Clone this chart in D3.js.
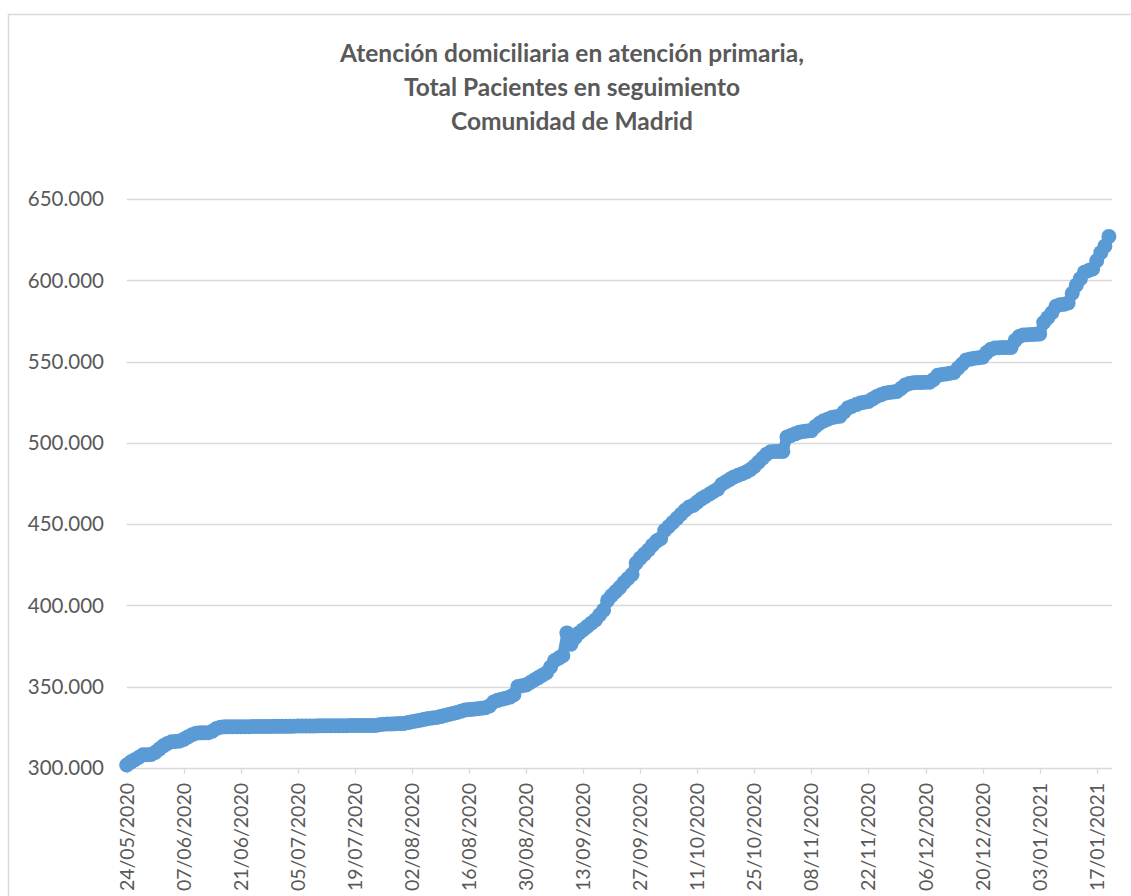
<!DOCTYPE html>
<html><head><meta charset="utf-8">
<script src="https://cdn.jsdelivr.net/npm/d3@7"></script>
<style>body{margin:0;background:#fff}svg{display:block}</style>
</head><body><svg id="c" width="1131" height="896"></svg>
<script>
const titleLines = ["Atención domiciliaria en atención primaria,", "Total Pacientes en seguimiento", "Comunidad de Madrid"];
const startDate = "24/05/2020";
const endDate = "20/01/2021";
const values = [
301700,303500,305000,306500,308000,308000,308200,
309500,311500,313500,315000,316000,316200,316500,
317500,319000,320300,321300,321500,321500,321600,
322500,324200,325000,325200,325200,325300,325300,
325300,325300,325300,325400,325400,325400,325400,
325400,325500,325500,325500,325500,325500,325600,
325700,325700,325700,325700,325700,325800,325900,
325900,325900,325900,325900,325900,325900,326000,
326000,326000,326000,326000,326000,326000,326500,
326800,327000,327000,327100,327200,327300,327800,
328300,328800,329300,329800,330300,330700,331000,
331500,332200,332800,333400,334000,334800,335600,
335800,336000,336300,336600,337000,338000,340500,
341500,342200,342800,343500,345000,350000,350500,
351000,352500,354000,355500,357000,358500,362000,
366000,367500,369000,383000,376000,380000,383000,
385000,387000,389000,391000,394000,397000,403000,
406000,408500,411000,414000,416500,419000,426000,
429000,431500,434000,437000,439500,441000,446000,
448500,451000,453500,456000,458500,460500,461500,
463500,465500,467000,468500,470000,471500,474500,
476000,477500,479000,480000,481000,482000,483500,
485500,488000,490500,493000,494500,494600,494600,
494700,503500,504500,505500,506500,507000,507300,
507500,510000,512000,513500,514500,515500,516000,
516300,519000,521500,522500,523500,524500,525000,
525400,527000,528500,529500,530500,531000,531300,
531600,533500,535500,536500,537000,537100,537100,
537200,537300,539000,541500,542000,542300,542800,
543200,546000,548500,551000,551500,552000,552300,
552600,555500,557500,558300,558500,558600,558600,
558700,563000,565500,566300,566500,566600,566700,
567000,574000,577000,580000,584000,585000,585300,
586000,592000,597000,601000,605000,606000,607000,
612000,617000,621000,627000
];
const xTickLabels = ["24/05/2020","07/06/2020","21/06/2020","05/07/2020","19/07/2020","02/08/2020","16/08/2020","30/08/2020","13/09/2020","27/09/2020","11/10/2020","25/10/2020","08/11/2020","22/11/2020","06/12/2020","20/12/2020","03/01/2021","17/01/2021"];
const yTicks = [300000,350000,400000,450000,500000,550000,600000,650000];

const parse = d3.timeParse("%d/%m/%Y");
const t0 = parse(startDate);
const data = values.map((v, i) => ({date: d3.timeDay.offset(t0, i), value: v}));

const svg = d3.select("#c");
const TXT = "#595959", GRID = "#D9D9D9", BLUE = "#5B9BD5";
const FONT = "Lato, 'Open Sans', sans-serif";

const plotLeft = 126.7, plotRight = 1112, yTop = 199, yBottom = 767.8;
const x = d3.scaleTime().domain([t0, parse(endDate)]).range([plotLeft, plotLeft + 4.0756 * 241]);
const y = d3.scaleLinear().domain([300000, 650000]).range([yBottom, yTop]);

// outer border
svg.append("rect").attr("x", 8.5).attr("y", 14.5).attr("width", 1200).attr("height", 1000)
  .attr("fill", "none").attr("stroke", GRID).attr("stroke-width", 1.5);

// title
const title = svg.append("text").attr("text-anchor", "middle").attr("fill", TXT)
  .style("font-family", FONT).style("font-weight", "bold").style("font-size", "24.5px");
titleLines.forEach((l, i) => title.append("tspan").attr("x", 572).attr("y", 62 + i * 34).text(l));

// gridlines
const fmt = d3.formatLocale({decimal: ",", thousands: ".", grouping: [3], currency: ["", "€"]}).format(",");
svg.append("g").selectAll("line").data(yTicks).join("line")
  .attr("x1", plotLeft).attr("x2", plotRight)
  .attr("y1", d => Math.round(y(d)) + 0.5).attr("y2", d => Math.round(y(d)) + 0.5)
  .attr("stroke", GRID).attr("stroke-width", 1.3);

// y labels
svg.append("g").selectAll("text").data(yTicks).join("text")
  .attr("x", 104).attr("y", d => y(d)).attr("dy", "0.36em").attr("text-anchor", "end")
  .attr("fill", TXT).style("font-family", FONT).style("font-size", "20.5px").text(d => fmt(d));

// x axis ticks
const xt = xTickLabels.map(parse);
svg.append("g").selectAll("line").data(xt).join("line")
  .attr("x1", d => Math.round(x(d)) + 0.5).attr("x2", d => Math.round(x(d)) + 0.5)
  .attr("y1", yBottom).attr("y2", yBottom + 6).attr("stroke", GRID).attr("stroke-width", 1.3);
svg.append("g").selectAll("text").data(xt).join("text")
  .attr("transform", d => `translate(${x(d)},783) rotate(-90)`)
  .attr("dy", "0.36em").attr("text-anchor", "end")
  .attr("fill", TXT).style("font-family", FONT).style("font-size", "19.5px")
  .text((d, i) => xTickLabels[i]);

// series
const line = d3.line().x(d => x(d.date)).y(d => y(d.value));
svg.append("path").datum(data).attr("d", line).attr("fill", "none")
  .attr("stroke", BLUE).attr("stroke-width", 11).attr("stroke-linejoin", "round").attr("stroke-linecap", "round");
svg.append("g").selectAll("circle").data(data).join("circle")
  .attr("cx", d => x(d.date)).attr("cy", d => y(d.value)).attr("r", 7.5).attr("fill", BLUE);
</script></body></html>
